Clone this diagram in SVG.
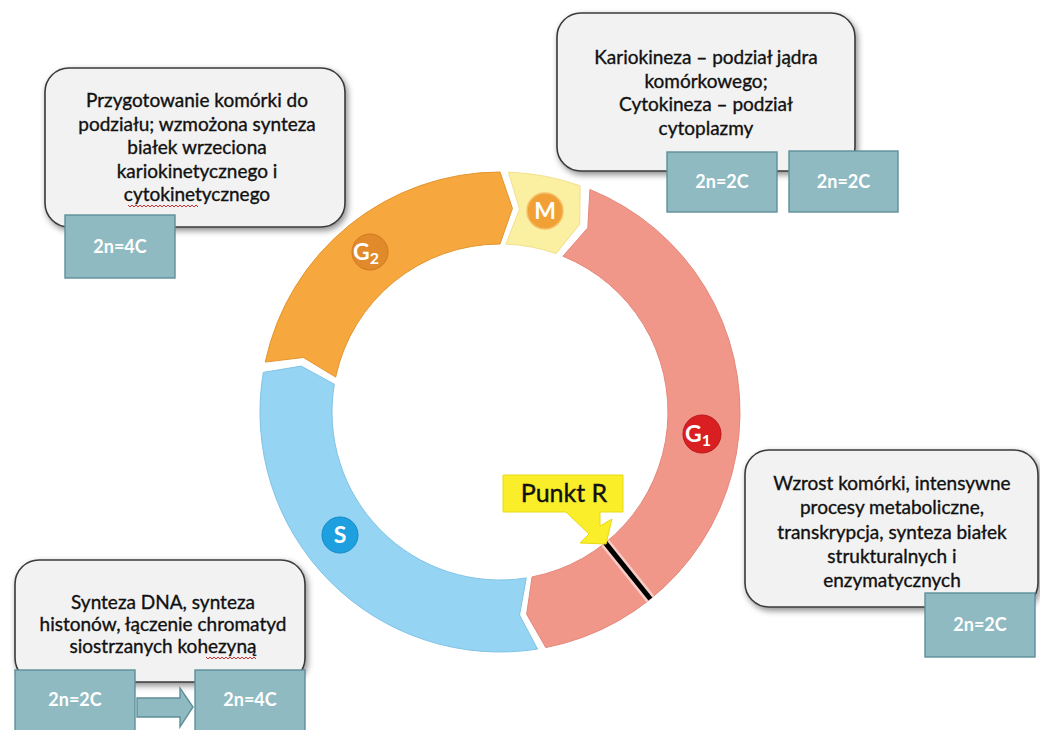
<svg xmlns="http://www.w3.org/2000/svg" width="1040" height="730" viewBox="0 0 1040 730">
<defs>
<filter id="sh" x="-10%" y="-10%" width="125%" height="130%">
<feDropShadow dx="2" dy="3" stdDeviation="3" flood-color="#000" flood-opacity="0.45"/>
</filter>
<style>
.box{fill:#F2F2F2;stroke:#3A3A3A;stroke-width:1.6}
.txt{font-family:Lato,"Open Sans",sans-serif;font-size:19px;fill:#111111;stroke:#111111;stroke-width:0.35;text-anchor:middle}
.teal{fill:#8FBAC2;stroke:#5F8F99;stroke-width:1.4}
.tl{font-family:Lato,"Open Sans",sans-serif;font-size:18px;font-weight:bold;fill:#FFFFFF;text-anchor:middle}
.badge{font-family:Lato,"Open Sans",sans-serif;font-size:23px;font-weight:bold;fill:#FFFFFF;text-anchor:middle}
.wavy{fill:none;stroke:#D03030;stroke-width:1}
</style>
</defs>
<rect width="1040" height="730" fill="#FFFFFF"/>

<g id="ring">
<g id="G2">
<path d="M265.24,362.10 A240,240 0 0 1 500,172 L512.45,208.38 L500,244 A168,168 0 0 0 335.67,377.07 L303.42,357.48 Z" fill="#F6A83E" stroke="#E3952E" stroke-width="1"/>
<circle cx="370" cy="252" r="18" fill="#E08A2C" stroke="#D07A20" stroke-width="1"/>
<text class="badge" x="366" y="260">G<tspan font-size="16" dy="4">2</tspan></text>
</g>
<g id="M">
<path d="M508.38,172.15 A240,240 0 0 1 580.11,185.77 L579.71,224.22 L556.08,253.64 A168,168 0 0 0 505.86,244.10 L519.55,208.94 Z" fill="#FBF0A2" stroke="#EFE08A" stroke-width="1"/>
<circle cx="545" cy="211" r="18" fill="#F0A034" stroke="#F6C06A" stroke-width="1.5"/>
<text class="badge" x="545" y="219">M</text>
</g>
<g id="G1">
<path d="M589.91,189.48 A240,240 0 0 1 545.79,647.59 L526.63,614.25 L532.06,576.91 A168,168 0 0 0 562.93,256.23 L587.82,227.87 Z" fill="#F1978A" stroke="#E5877A" stroke-width="1"/>
<circle cx="702" cy="434" r="19" fill="#D91F22" stroke="#B81518" stroke-width="1"/>
<text class="badge" x="698" y="442">G<tspan font-size="16" dy="4">1</tspan></text>
</g>
<g id="S">
<path d="M537.54,649.05 A240,240 0 0 1 263.29,372.39 L301.23,366.11 L334.30,384.27 A168,168 0 0 0 526.28,577.93 L519.55,615.06 Z" fill="#96D4F3" stroke="#80C3E6" stroke-width="1"/>
<circle cx="340" cy="535" r="18" fill="#1E9FE0" stroke="#1589C8" stroke-width="1"/>
<text class="badge" x="340" y="543">S</text>
</g>
</g>

<g id="connectors">
<line x1="605.3" y1="542.9" x2="650.4" y2="599" stroke="#FFFFFF" stroke-opacity="0.5" stroke-width="10"/>
<line x1="605.3" y1="542.9" x2="650.4" y2="599" stroke="#000000" stroke-width="5"/>
</g>

<g id="punktR">
<path d="M503,475 H623 V512 H600 V526 L612,519 L606,544 L580,543 L589,534 L566,512 H503 Z" fill="#FAEE2A" stroke="#E8DA10" stroke-width="1"/>
<text x="564" y="502" font-family="Lato,'Open Sans',sans-serif" font-size="25" fill="#111" stroke="#111" stroke-width="0.4" text-anchor="middle">Punkt R</text>
</g>

<g id="boxG2">
<rect class="box" x="45" y="68" width="300" height="159" rx="24" filter="url(#sh)"/>
<text class="txt" x="197" y="107">Przygotowanie komórki do</text>
<text class="txt" x="197" y="131">podziału; wzmożona synteza</text>
<text class="txt" x="197" y="154">białek wrzeciona</text>
<text class="txt" x="197" y="178">kariokinetycznego i</text>
<text class="txt" x="197" y="201">cytokinetycznego</text>
<path class="wavy" d="M128,205 l2,2 l2,-2 l2,2 l2,-2 l2,2 l2,-2 l2,2 l2,-2 l2,2 l2,-2 l2,2 l2,-2 l2,2 l2,-2 l2,2 l2,-2 l2,2 l2,-2 l2,2 l2,-2 l2,2 l2,-2 l2,2 l2,-2 l2,2 l2,-2 l2,2 l2,-2 l2,2 l2,-2 l2,2 l2,-2 l2,2 l2,-2 l2,2"/>
<rect class="teal" x="65" y="215" width="110" height="63"/>
<text class="tl" x="120" y="253">2n=4C</text>
</g>

<g id="boxM">
<rect class="box" x="557" y="13" width="298" height="158" rx="24" filter="url(#sh)"/>
<text class="txt" x="706" y="64">Kariokineza – podział jądra</text>
<text class="txt" x="706" y="88">komórkowego;</text>
<text class="txt" x="706" y="111">Cytokineza – podział</text>
<text class="txt" x="706" y="135">cytoplazmy</text>
<rect class="teal" x="667" y="152" width="110" height="60"/>
<text class="tl" x="722" y="188">2n=2C</text>
<rect class="teal" x="789" y="151" width="109" height="61"/>
<text class="tl" x="843.5" y="188">2n=2C</text>
</g>

<g id="boxG1">
<rect class="box" x="745" y="450" width="293" height="157" rx="24" filter="url(#sh)"/>
<text class="txt" x="892" y="490">Wzrost komórki, intensywne</text>
<text class="txt" x="892" y="514">procesy metaboliczne,</text>
<text class="txt" x="892" y="539">transkrypcja, synteza białek</text>
<text class="txt" x="892" y="563">strukturalnych i</text>
<text class="txt" x="892" y="587">enzymatycznych</text>
<rect class="teal" x="925" y="593" width="110" height="64"/>
<text class="tl" x="980" y="631">2n=2C</text>
</g>

<g id="boxS">
<rect class="box" x="15" y="560" width="290" height="122" rx="24" filter="url(#sh)"/>
<text class="txt" x="163" y="609">Synteza DNA, synteza</text>
<text class="txt" x="163" y="631">histonów, łączenie chromatyd</text>
<text class="txt" x="163" y="653">siostrzanych kohezyną</text>
<path class="wavy" d="M206,657 l2,2 l2,-2 l2,2 l2,-2 l2,2 l2,-2 l2,2 l2,-2 l2,2 l2,-2 l2,2 l2,-2 l2,2 l2,-2 l2,2 l2,-2 l2,2 l2,-2 l2,2 l2,-2 l2,2 l2,-2 l2,2 l2,-2 l2,2"/>
<rect class="teal" x="15" y="670" width="120" height="65"/>
<text class="tl" x="75" y="706">2n=2C</text>
<path class="teal" d="M137,698 H180 V688 L193,707 L180,727 V717 H137 Z"/>
<rect class="teal" x="195" y="670" width="110" height="65"/>
<text class="tl" x="250" y="706">2n=4C</text>
</g>
</svg>
